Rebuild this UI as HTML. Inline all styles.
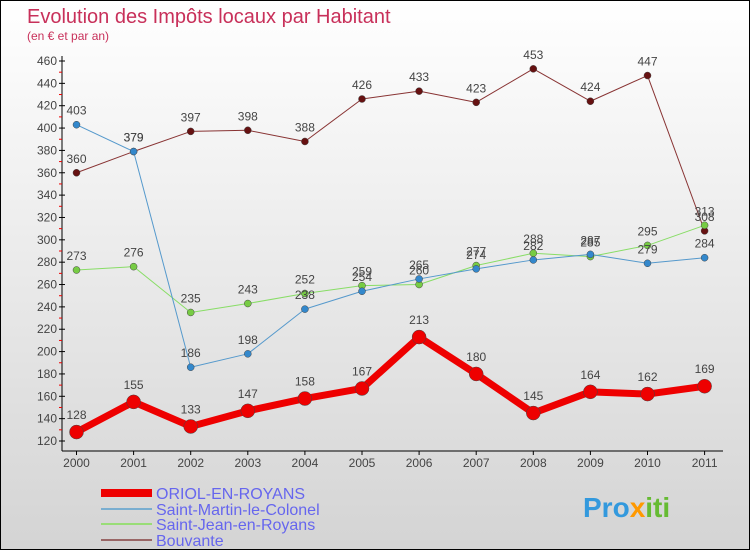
<!DOCTYPE html>
<html><head><meta charset="utf-8"><style>
body{margin:0}
#c{width:750px;height:550px;position:relative;box-sizing:border-box;border:1px solid #000;background:linear-gradient(#fff,#d4d4d4);font-family:"Liberation Sans",sans-serif;overflow:hidden}
</style></head><body>
<div id="c">
<svg id="s" width="750" height="550" style="position:absolute;left:0;top:0">
<text x="26" y="22" font-size="20" fill="#c8305a">Evolution des Impôts locaux par Habitant</text>
<text x="26" y="39" font-size="12" fill="#c8305a">(en € et par an)</text>
<g id="g"></g>
<g>
<rect x="100" y="488" width="51" height="8" fill="#e00"/>
<text x="155" y="498" font-size="16" fill="#6666ee">ORIOL-EN-ROYANS</text>
<rect x="100" y="507" width="51" height="2" fill="#7aaed0"/>
<text x="155" y="514" font-size="16" fill="#6666ee">Saint-Martin-le-Colonel</text>
<rect x="100" y="522" width="51" height="2" fill="#99dd77"/>
<text x="155" y="529" font-size="16" fill="#6666ee">Saint-Jean-en-Royans</text>
<rect x="100" y="538" width="51" height="2" fill="#996666"/>
<text x="155" y="545" font-size="16" fill="#6666ee">Bouvante</text>
</g>
<text x="582" y="516" font-size="28" font-weight="bold" fill="#3399dd">Pro<tspan fill="#ff9900">x</tspan><tspan fill="#66bb33">iti</tspan></text>
</svg>
</div>
<script>
const years=["2000","2001","2002","2003","2004","2005","2006","2007","2008","2009","2010","2011"];
const yTicks=[120,140,160,180,200,220,240,260,280,300,320,340,360,380,400,420,440,460];
const oriol=[128,155,133,147,158,167,213,180,145,164,162,169];
const saintMartin=[403,379,186,198,238,254,265,274,282,287,279,284];
const saintJean=[273,276,235,243,252,259,260,277,288,285,295,313];
const bouvante=[360,379,397,398,388,426,433,423,453,424,447,308];
const NS="http://www.w3.org/2000/svg",g=document.getElementById('g');
const X=i=>75.5+i*57.1, Y=v=>440-(v-120)*(380/340);
function el(t,a){const e=document.createElementNS(NS,t);for(const k in a)e.setAttribute(k,a[k]);g.appendChild(e);return e;}
let ax=el('line',{x1:61,y1:55,x2:61,y2:450,stroke:'#000'});


let xa=el('line',{x1:61,y1:450,x2:722,y2:450,stroke:'#000'});


yTicks.forEach((v,i)=>{const y=Y(v);el('line',{x1:58,x2:64,y1:y,y2:y,stroke:'#000'});
if(i<yTicks.length-1)el('line',{x1:58,x2:61,y1:Y(v+10),y2:Y(v+10),stroke:'#e00'});
const t=el('text',{x:56,y:y+4,'font-size':12,fill:'#444','text-anchor':'end'});t.textContent=v;

});
years.forEach((yr,i)=>{el('line',{x1:X(i),x2:X(i),y1:450,y2:454,stroke:'#000'});
const t=el('text',{x:X(i),y:466,'font-size':12,fill:'#444','text-anchor':'middle'});t.textContent=yr;

});
function series(d,col,w,r,name,dot,off){
const p=el('polyline',{points:d.map((v,i)=>X(i)+','+Y(v)).join(' '),fill:'none',stroke:col,'stroke-width':w,'stroke-linejoin':'round'});


d.forEach((v,i)=>{const c=el('circle',{cx:X(i),cy:Y(v),r:r,fill:dot,stroke:'#444','stroke-width':0.5});


const t=el('text',{x:X(i),y:Y(v)-off,'font-size':12,fill:'#444','text-anchor':'middle'});t.textContent=v;

});}
series(bouvante,'#883333',1,3.5,'bouvante','#661111',10);
series(saintJean,'#88dd66',1,3.5,'saint-jean','#77cc44',10);
series(saintMartin,'#5599cc',1,3.5,'saint-martin','#3388cc',10);
series(oriol,'#ee0000',7,7,'oriol','#ee0000',13);
</script>
</body></html>
